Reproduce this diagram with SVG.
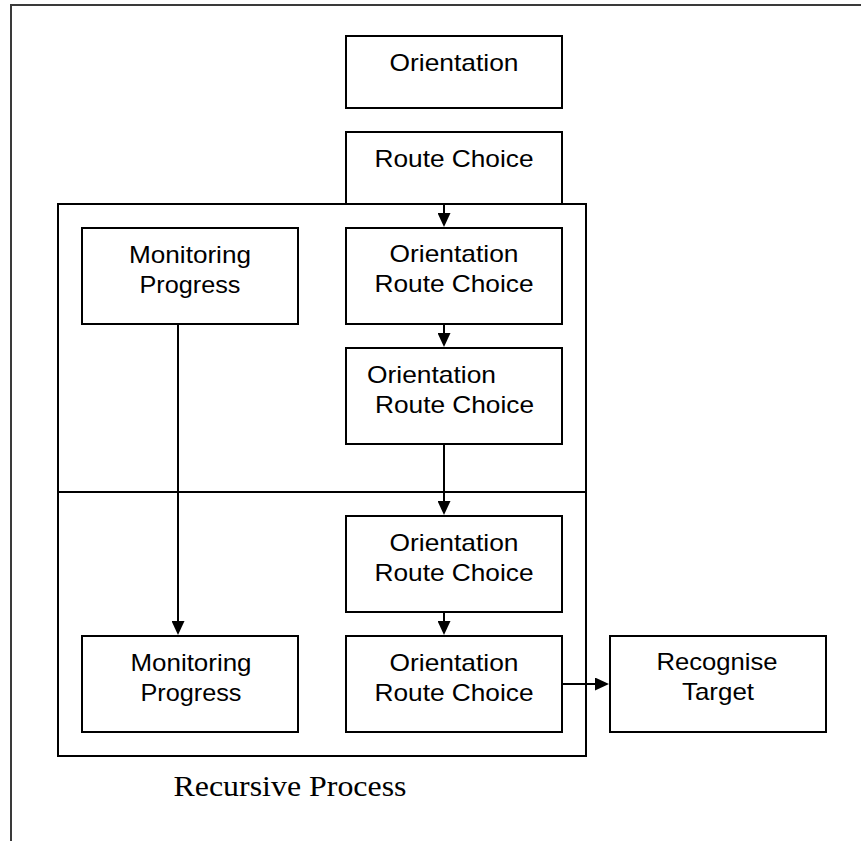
<svg xmlns="http://www.w3.org/2000/svg" width="861" height="841" viewBox="0 0 861 841">
  <style>
    .box { fill: #ffffff; stroke: #000000; stroke-width: 2; }
    .frame { fill: none; stroke: #3a3a3a; stroke-width: 2; }
    .lbl { font-family: "Liberation Sans", Arial, sans-serif; font-size: 24px; fill: #000000; text-anchor: middle; }
    .lbl-start { font-family: "Liberation Sans", Arial, sans-serif; font-size: 24px; fill: #000000; }
    .caption { font-family: "Liberation Serif", "Times New Roman", serif; font-size: 29px; fill: #000000; text-anchor: middle; }
    .conn { fill: none; stroke: #000000; stroke-width: 2; }
  </style>
  <defs>
    <marker id="arrow" markerUnits="userSpaceOnUse" markerWidth="14" markerHeight="13" refX="10" refY="6.5" orient="auto">
      <path d="M0,0 L14,6.5 L0,13 Z" fill="#000000"/>
    </marker>
  </defs>

  <rect x="0" y="0" width="861" height="841" fill="#ffffff"/>

  <!-- page frame: top and left edges only -->
  <path class="frame" d="M11,841 V5 H861"/>

  <!-- recursive process container with its divider -->
  <g id="recursive-process">
    <rect class="box" x="58" y="204" width="528" height="552"/>
    <line x1="58" y1="492" x2="586" y2="492" stroke="#000000" stroke-width="2"/>
    <text class="caption" x="290" y="796" textLength="233" lengthAdjust="spacingAndGlyphs">Recursive Process</text>
  </g>

  <g id="orientation">
    <rect class="box" x="346" y="36" width="216" height="72"/>
    <text class="lbl" x="454" y="71" textLength="129" lengthAdjust="spacingAndGlyphs">Orientation</text>
  </g>

  <g id="route-choice">
    <rect class="box" x="346" y="132" width="216" height="72"/>
    <text class="lbl" x="454" y="167" textLength="159" lengthAdjust="spacingAndGlyphs">Route Choice</text>
  </g>

  <g id="monitoring-1">
    <rect class="box" x="82" y="228" width="216" height="96"/>
    <text class="lbl" x="190" y="263" textLength="122" lengthAdjust="spacingAndGlyphs">Monitoring</text>
    <text class="lbl" x="190" y="293" textLength="101" lengthAdjust="spacingAndGlyphs">Progress</text>
  </g>

  <g id="orc-1">
    <rect class="box" x="346" y="228" width="216" height="96"/>
    <text class="lbl" x="454" y="262" textLength="129" lengthAdjust="spacingAndGlyphs">Orientation</text>
    <text class="lbl" x="454" y="292" textLength="159" lengthAdjust="spacingAndGlyphs">Route Choice</text>
  </g>

  <g id="orc-2">
    <rect class="box" x="346" y="348" width="216" height="96"/>
    <text class="lbl-start" x="367" y="383" textLength="129" lengthAdjust="spacingAndGlyphs">Orientation</text>
    <text class="lbl-start" x="375" y="413" textLength="159" lengthAdjust="spacingAndGlyphs">Route Choice</text>
  </g>

  <g id="orc-3">
    <rect class="box" x="346" y="516" width="216" height="96"/>
    <text class="lbl" x="454" y="551" textLength="129" lengthAdjust="spacingAndGlyphs">Orientation</text>
    <text class="lbl" x="454" y="581" textLength="159" lengthAdjust="spacingAndGlyphs">Route Choice</text>
  </g>

  <g id="orc-4">
    <rect class="box" x="346" y="636" width="216" height="96"/>
    <text class="lbl" x="454" y="671" textLength="129" lengthAdjust="spacingAndGlyphs">Orientation</text>
    <text class="lbl" x="454" y="701" textLength="159" lengthAdjust="spacingAndGlyphs">Route Choice</text>
  </g>

  <g id="monitoring-2">
    <rect class="box" x="82" y="636" width="216" height="96"/>
    <text class="lbl" x="191" y="671" textLength="121" lengthAdjust="spacingAndGlyphs">Monitoring</text>
    <text class="lbl" x="191" y="701" textLength="101" lengthAdjust="spacingAndGlyphs">Progress</text>
  </g>

  <g id="recognise-target">
    <rect class="box" x="610" y="636" width="216" height="96"/>
    <text class="lbl" x="717" y="670" textLength="121" lengthAdjust="spacingAndGlyphs">Recognise</text>
    <text class="lbl" x="718" y="700" textLength="72" lengthAdjust="spacingAndGlyphs">Target</text>
  </g>

  <!-- connectors -->
  <g id="connectors">
    <line class="conn" x1="444" y1="204" x2="444" y2="223" marker-end="url(#arrow)"/>
    <line class="conn" x1="444" y1="324" x2="444" y2="343" marker-end="url(#arrow)"/>
    <line class="conn" x1="444" y1="444" x2="444" y2="511" marker-end="url(#arrow)"/>
    <line class="conn" x1="444" y1="612" x2="444" y2="631" marker-end="url(#arrow)"/>
    <line class="conn" x1="178" y1="324" x2="178" y2="631" marker-end="url(#arrow)"/>
    <line class="conn" x1="562" y1="684" x2="605" y2="684" marker-end="url(#arrow)"/>
  </g>
</svg>
